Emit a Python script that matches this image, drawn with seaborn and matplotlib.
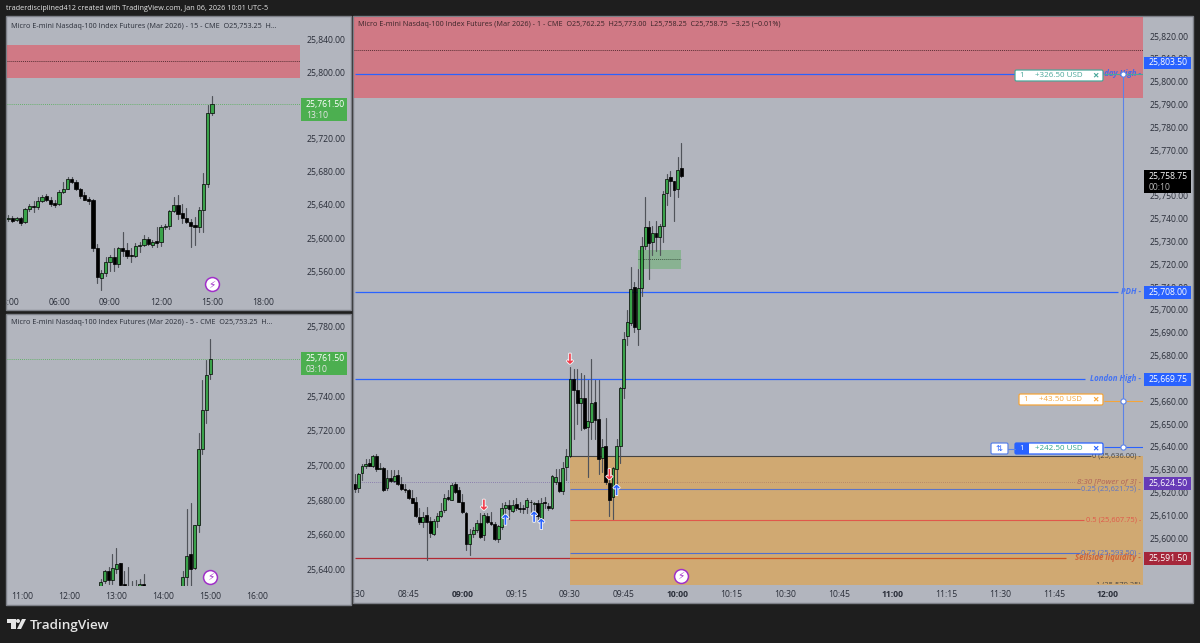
import numpy as np
import pandas as pd
import matplotlib
matplotlib.use("Agg")
import matplotlib.pyplot as plt
import matplotlib.patheffects as pe
import seaborn as sns
from matplotlib.patches import Rectangle, FancyBboxPatch, Polygon
from matplotlib.transforms import IdentityTransform

# ---- 1 minute bars, 08:30 -> 10:01 ----
m1_open = [25623.9, 25622.0, 25628.6, 25631.5, 25633.0, 25631.8, 25635.9, 25630.4, 25630.8, 25622.0,
           25626.4, 25625.2, 25627.6, 25623.9, 25621.6, 25621.0, 25617.4, 25615.9, 25609.3, 25607.2,
           25610.1, 25607.6, 25602.0, 25607.7, 25609.8, 25612.3, 25618.1, 25616.9, 25623.6, 25621.0,
           25616.0, 25611.2, 25597.4, 25601.9, 25603.5, 25606.7, 25601.2, 25609.8, 25607.0, 25606.4,
           25599.6, 25605.0, 25613.3, 25614.7, 25612.0, 25614.9, 25613.4, 25613.3, 25613.7, 25615.8,
           25615.0, 25615.2, 25608.9, 25616.0, 25614.2, 25613.3, 25624.7, 25624.8, 25620.7, 25631.2,
           25635.9, 25669.7, 25665.0, 25659.4, 25661.6, 25648.7, 25651.0, 25659.7, 25652.2, 25635.0,
           25640.3, 25624.2, 25618.1, 25630.2, 25640.3, 25665.9, 25688.4, 25694.2, 25710.0, 25691.8,
           25709.6, 25728.2, 25736.5, 25729.7, 25733.6, 25731.9, 25737.0, 25751.3, 25758.4, 25756.4,
           25752.9, 25762.25]
m1_high = [25628.3, 25628.6, 25632.7, 25634.9, 25634.9, 25636.3, 25637.0, 25633.0, 25631.2, 25630.0,
           25630.0, 25629.8, 25629.8, 25626.8, 25623.9, 25621.7, 25621.0, 25618.1, 25613.0, 25611.5,
           25613.7, 25609.3, 25608.6, 25610.8, 25615.2, 25619.5, 25621.0, 25624.0, 25624.8, 25622.5,
           25619.5, 25611.5, 25604.2, 25605.0, 25607.9, 25611.1, 25611.1, 25611.1, 25611.5, 25607.1,
           25605.7, 25615.2, 25615.9, 25616.6, 25616.6, 25617.4, 25615.9, 25614.4, 25617.4, 25616.6,
           25615.9, 25616.6, 25617.4, 25618.1, 25615.2, 25627.6, 25630.5, 25630.5, 25633.4, 25639.2,
           25675.0, 25674.3, 25674.3, 25672.3, 25671.3, 25669.1, 25678.6, 25669.4, 25669.1, 25643.6,
           25652.8, 25629.8, 25631.2, 25643.6, 25666.2, 25690.3, 25699.8, 25718.7, 25712.2, 25718.0,
           25731.9, 25749.4, 25739.2, 25737.0, 25739.2, 25737.7, 25752.3, 25759.6, 25761.0, 25756.7,
           25766.9, 25773.0]
m1_low = [25620.3, 25620.3, 25625.4, 25630.9, 25631.5, 25631.2, 25629.5, 25630.1, 25620.7, 25621.3,
          25624.6, 25624.6, 25623.5, 25621.0, 25620.3, 25617.0, 25615.2, 25609.3, 25606.4, 25605.0,
          25590.4, 25600.6, 25601.3, 25605.0, 25609.3, 25611.5, 25616.6, 25616.6, 25619.8, 25615.8,
          25611.1, 25595.0, 25592.6, 25600.6, 25602.8, 25599.9, 25599.1, 25606.7, 25605.7, 25599.1,
          25598.4, 25604.2, 25608.6, 25608.6, 25611.5, 25612.3, 25611.5, 25610.8, 25610.8, 25610.8,
          25609.3, 25608.6, 25607.9, 25613.0, 25612.5, 25612.7, 25623.9, 25620.3, 25619.2, 25625.4,
          25635.6, 25643.6, 25650.2, 25647.3, 25648.0, 25626.8, 25643.6, 25643.6, 25628.3, 25629.0,
          25623.9, 25609.6, 25608.6, 25622.5, 25633.0, 25661.6, 25684.5, 25693.2, 25690.3, 25684.8,
          25706.3, 25726.8, 25713.6, 25723.9, 25725.7, 25724.3, 25730.0, 25746.2, 25749.8, 25738.9,
          25749.4, 25758.25]
m1_close = [25621.7, 25628.3, 25631.7, 25632.7, 25631.8, 25635.9, 25630.1, 25630.8, 25621.0, 25626.4,
            25625.1, 25627.1, 25623.9, 25621.6, 25621.0, 25617.4, 25615.6, 25609.6, 25606.9, 25609.3,
            25606.9, 25602.3, 25607.7, 25609.9, 25612.0, 25617.8, 25617.2, 25623.2, 25620.3, 25616.0,
            25611.5, 25597.4, 25601.9, 25603.6, 25606.6, 25600.6, 25610.1, 25607.1, 25606.4, 25599.7,
            25605.3, 25613.4, 25614.4, 25612.7, 25614.4, 25613.0, 25612.8, 25612.7, 25616.9, 25616.0,
            25615.2, 25609.6, 25615.2, 25615.2, 25613.3, 25627.1, 25626.8, 25620.7, 25630.9, 25635.9,
            25669.7, 25664.8, 25659.4, 25661.6, 25648.3, 25651.3, 25659.2, 25651.6, 25634.9, 25640.0,
            25624.7, 25616.9, 25630.9, 25640.3, 25665.9, 25687.4, 25694.7, 25709.3, 25692.5, 25709.7,
            25728.2, 25736.3, 25729.3, 25733.8, 25731.9, 25737.0, 25750.8, 25757.4, 25756.4, 25752.6,
            25761.5, 25758.75]

# ---- 15 minute bars, 03:00 -> 15:00 ----
m15_open = [25623.0, 25624.8, 25621.5, 25624.8, 25619.5, 25635.2, 25639.2, 25637.2, 25644.8, 25650.9,
            25646.4, 25642.4, 25641.2, 25655.7, 25659.7, 25671.7, 25668.1, 25659.3, 25651.7, 25647.2,
            25646.4, 25588.2, 25552.1, 25558.1, 25570.9, 25577.0, 25568.5, 25587.4, 25585.0, 25579.8,
            25578.6, 25590.2, 25591.8, 25599.1, 25591.4, 25595.8, 25595.4, 25613.1, 25614.3, 25632.8,
            25639.6, 25630.4, 25623.9, 25619.9, 25615.5, 25613.5, 25634.4, 25665.3, 25751.3]
m15_high = [25627.6, 25626.4, 25625.6, 25625.6, 25636.8, 25641.6, 25644.8, 25649.7, 25651.7, 25653.7,
            25649.7, 25645.6, 25657.7, 25667.7, 25673.7, 25673.7, 25669.7, 25660.9, 25655.7, 25649.7,
            25646.8, 25592.2, 25561.3, 25577.4, 25579.4, 25587.4, 25589.4, 25607.5, 25593.4, 25587.4,
            25593.4, 25595.4, 25603.5, 25601.5, 25597.4, 25613.5, 25615.5, 25616.7, 25634.4, 25649.7,
            25652.5, 25641.6, 25636.8, 25623.5, 25625.6, 25637.6, 25678.6, 25761.3, 25772.1]
m15_low = [25620.7, 25619.9, 25620.3, 25616.3, 25618.7, 25632.8, 25631.2, 25635.6, 25643.2, 25645.2,
           25639.2, 25637.6, 25640.4, 25654.5, 25658.9, 25666.5, 25657.7, 25648.4, 25645.6, 25641.6,
           25584.6, 25545.2, 25537.2, 25554.1, 25560.5, 25560.5, 25565.3, 25578.2, 25575.4, 25570.5,
           25577.4, 25583.4, 25590.6, 25591.0, 25589.4, 25589.4, 25590.2, 25610.3, 25610.3, 25631.6,
           25623.5, 25618.3, 25618.3, 25589.4, 25591.4, 25607.5, 25607.5, 25661.7, 25749.3]
m15_close = [25624.8, 25621.1, 25624.8, 25618.7, 25635.6, 25638.8, 25637.6, 25645.2, 25649.7, 25646.4,
             25640.8, 25640.0, 25655.7, 25659.7, 25671.7, 25668.1, 25659.3, 25650.4, 25646.4, 25645.2,
             25587.4, 25552.9, 25558.1, 25571.4, 25577.0, 25568.9, 25587.4, 25584.6, 25578.2, 25578.2,
             25590.2, 25591.4, 25598.7, 25592.2, 25594.6, 25594.2, 25613.5, 25614.7, 25632.4, 25640.0,
             25629.6, 25623.9, 25619.9, 25615.1, 25613.5, 25634.4, 25665.7, 25751.3, 25761.5]

# ---- 5 minute bars that are in view, bars before the last one ----
m5_back = [28, 27, 26, 25, 24, 23, 22, 21, 20, 19, 18, 17, 7, 6, 5, 4, 3, 2, 1, 0]
m5_open = [25630.0, 25633.3, 25639.0, 25633.7, 25640.0, 25643.5, 25631.8, 25630.5, 25628.0, 25628.0,
           25630.0, 25631.8, 25630.4, 25635.4, 25648.7, 25640.6, 25665.9, 25709.6, 25731.9, 25752.6]
m5_high = [25634.5, 25639.6, 25641.2, 25648.9, 25652.1, 25643.9, 25639.0, 25641.6, 25633.3, 25633.7,
           25634.5, 25637.1, 25639.0, 25675.1, 25678.6, 25665.9, 25718.8, 25749.5, 25761.0, 25772.9]
m5_low = [25628.0, 25632.0, 25631.4, 25631.4, 25637.7, 25629.0, 25628.0, 25628.0, 25626.0, 25626.0,
          25628.0, 25628.0, 25626.0, 25631.0, 25630.0, 25640.0, 25661.3, 25706.8, 25724.6, 25749.9]
m5_close = [25632.5, 25639.0, 25633.7, 25640.6, 25642.9, 25631.0, 25630.0, 25630.2, 25629.0, 25629.0,
            25631.8, 25630.0, 25635.8, 25647.9, 25640.2, 25665.9, 25709.6, 25731.9, 25752.4, 25761.5]

# ---- levels ----
zone_low = 25793.0
zone_high = 25834.0
zone_mid = 25814.0
level_names = ["Today High -", "PDH -", "London High -", "Sellside liquidity -"]
level_prices = [25803.5, 25708.0, 25669.75, 25591.5]
level_ends = [184.0, 212.9, 203.7, 198.4]
level_colors = ["#2962ff", "#2962ff", "#2962ff", "#b22833"]
fib_prices = [25636.0, 25621.75, 25607.75, 25593.5, 25579.25]
fib_labels = ["0 (25,636.00) -", "0.25 (25,621.75) -", "0.5 (25,607.75) -", "0.75 (25,593.50) -", "1 (25,579.25)"]
fib_colors = ["#444444", "#5b74c8", "#e0584a", "#4f6fd0", "#444444"]
fib_ends = [205.4, 202.3, 203.4, 202.3, 202.3]
down_x = [60, 36, 71]
down_y = [25678.2, 25614.2, 25627.6]
up_x = [42, 50, 52, 73]
up_y = [25607.6, 25608.9, 25605.7, 25620.6]
drawing_x = 214.3
anchor_prices = [25803.5, 25660.0, 25640.0]
anchor_colors = ["#4aa79a", "#f5a53a", "#2962ff"]

BG = "#1e1e1e"
PANE = "#b2b5be"
TXT = "#2a2e39"
UP = "#3aa24a"

sns.set_theme(style="white")
plt.rcParams["font.family"] = ["Open Sans", "DejaVu Sans"]
plt.rcParams["axes.unicode_minus"] = False

fig = plt.figure(figsize=(12, 6.43), dpi=100, facecolor=BG)
ident = IdentityTransform()


def px_text(x, y, s, **kw):
    kw.setdefault("va", "center")
    kw.setdefault("color", TXT)
    kw.setdefault("fontsize", 5.2)
    return fig.text(x, 643 - y, s, transform=ident, **kw)


def make_panel(x0, y0, x1, y1, cx1, cy1):
    # grey pane with the chart axes sitting inside it, scale + time areas stay around the axes
    rect = Rectangle((x0, 643 - y1), x1 - x0, y1 - y0, transform=ident, facecolor=PANE,
                     edgecolor="#7d8088", lw=1, zorder=-1)
    fig.add_artist(rect)
    ax = fig.add_axes([(x0 + 1) / 1200, (643 - cy1) / 643, (cx1 - x0 - 1) / 1200, (cy1 - y0 - 1) / 643])
    ax.set_facecolor("none")
    for s in ax.spines.values():
        s.set_visible(False)
    return ax, rect


def candles(ax, x, o, h, l, c, body_lw=0.5):
    df = pd.DataFrame({"x": x, "open": o, "high": h, "low": l, "close": c}).sort_values("x")
    df["bar"] = range(len(df))
    wick = df.melt(id_vars=["bar", "x"], value_vars=["low", "high"], value_name="price")
    sns.lineplot(data=wick, x="x", y="price", units="bar", estimator=None, errorbar=None,
                 color="#50535a", lw=0.85, ax=ax, legend=False, zorder=4)
    for is_up, col in [(True, UP), (False, "#000000")]:
        sub = df[(df["close"] >= df["open"]) == is_up]
        sns.barplot(x=sub["x"].values, y=(sub["close"] - sub["open"]).abs().values,
                    bottom=sub[["open", "close"]].min(axis=1).values,
                    native_scale=True, width=0.8, color=col, saturation=1, errorbar=None,
                    edgecolor="#000000", linewidth=body_lw, ax=ax, zorder=5)


def finish(ax, rect, xlim, ylim, xt, xl, yt, fmt="{:,.2f}", bold=()):
    ax.set_xlim(*xlim)
    ax.set_ylim(*ylim)
    ax.set_xlabel("")
    ax.set_ylabel("")
    ax.grid(False)
    ax.set_xticks(xt)
    ax.set_xticklabels(xl)
    ax.yaxis.tick_right()
    ax.set_yticks(yt)
    ax.set_yticklabels([fmt.format(v) for v in yt])
    ax.tick_params(axis="x", length=0, pad=4.2, labelsize=6.2, labelcolor=TXT)
    ax.tick_params(axis="y", length=0, pad=4.6, labelsize=6.2, labelcolor=TXT)
    for lab in ax.get_xticklabels():
        lab.set_clip_on(True)
        lab.set_clip_path(rect)
        if lab.get_text() in bold:
            lab.set_fontweight("bold")


def badge(x0, y0, x1, y1, color, line1, line2=None, c2="#e6e6e6"):
    fig.add_artist(Rectangle((x0, 643 - y1), x1 - x0, y1 - y0, transform=ident, facecolor=color, lw=0))
    if line2 is None:
        px_text(x0 + 5, (y0 + y1) / 2, line1, color="white", fontsize=6.2)
    else:
        px_text(x0 + 5, y0 + 6.5, line1, color="white", fontsize=6.2)
        px_text(x0 + 5, y0 + 17, line2, color=c2, fontsize=6.2)


def bolt(ax, x, y):
    ax.scatter([x], [y], s=100, facecolor="white", edgecolor="#a030c8", lw=1.1, zorder=9)
    ax.text(x, y, "\u26a1", color="#a030c8", fontsize=7.5, ha="center", va="center", zorder=10,
            family="DejaVu Sans")


def order_tag(x0, x1, y, color, qty, txt, qty_fill=False):
    box = FancyBboxPatch((x0, 643 - y - 5.5), x1 - x0, 11, boxstyle="round,pad=0,rounding_size=1.5",
                         transform=ident, facecolor="white", edgecolor=color, lw=0.9)
    fig.add_artist(box)
    if qty_fill:
        fig.add_artist(Rectangle((x0, 643 - y - 5.5), 14, 11, transform=ident, facecolor=color, lw=0))
    px_text(x0 + 7, y, qty, color="white" if qty_fill else color, ha="center", fontsize=5.8)
    txt_col = "#2fa58f" if qty_fill else color
    px_text((x0 + 14 + x1 - 15) / 2, y, txt, color=txt_col, ha="center", fontsize=5.8)
    px_text(x1 - 7.5, y, "\u00d7", color=color if not qty_fill else "#2962ff", ha="center", fontsize=8, fontweight="bold")


# ==================== 15 minute pane ====================
ax15, r15 = make_panel(6, 16, 351, 310, 300, 292)
candles(ax15, 3 + np.arange(len(m15_open)) * 0.25, m15_open, m15_high, m15_low, m15_close)
ax15.axhspan(zone_low, zone_high, color="#f23645", alpha=0.47, lw=0, zorder=1)
ax15.axhline(zone_mid, color="#5a3035", lw=0.7, ls=(0, (1, 1)), zorder=2)
ax15.axhline(25761.5, color="#4caf50", lw=0.6, ls=(0, (1, 1.5)), zorder=2)
finish(ax15, r15, (2.94, 20.18), (25534.7, 25867.3), [3, 6, 9, 12, 15, 18],
       ["03:00", "06:00", "09:00", "12:00", "15:00", "18:00"],
       [25560, 25600, 25640, 25680, 25720, 25760, 25800, 25840])
bolt(ax15, 15, 25544)
px_text(11, 26, "Micro E-mini Nasdaq-100 Index Futures (Mar 2026) - 15 - CME  O25,753.25  H...")
badge(301, 98, 347, 121, "#4caf50", "25,761.50", "13:10")

# ==================== 5 minute pane ====================
ax5, r5 = make_panel(6, 314, 351, 605, 300, 586)
candles(ax5, 15 - np.array(m5_back) * 5 / 60, m5_open, m5_high, m5_low, m5_close)
ax5.axhline(25761.5, color="#4caf50", lw=0.6, ls=(0, (1, 1.5)), zorder=2)
finish(ax5, r5, (10.67, 16.91), (25630.4, 25786.9), [11, 12, 13, 14, 15, 16],
       ["11:00", "12:00", "13:00", "14:00", "15:00", "16:00"],
       [25640, 25660, 25680, 25700, 25720, 25740, 25760, 25780])
bolt(ax5, 15, 25635.6)
px_text(11, 322, "Micro E-mini Nasdaq-100 Index Futures (Mar 2026) - 5 - CME  O25,753.25  H...")
badge(301, 352, 347, 375, "#4caf50", "25,761.50", "03:10")

# ==================== 1 minute pane ====================
ax1, r1 = make_panel(353, 16, 1193, 603, 1143, 584)
candles(ax1, np.arange(len(m1_open)), m1_open, m1_high, m1_low, m1_close)
ax1.axhspan(zone_low, zone_high, color="#f23645", alpha=0.47, lw=0, zorder=1)
ax1.axhline(zone_mid, color="#5a3035", lw=0.7, ls=(0, (1, 1)), zorder=2)
ax1.fill_between([60, 219.8], 25579.0, fib_prices[0], color="#ff9800", alpha=0.4, lw=0, zorder=2)
ax1.fill_between([79, 91], 25717.8, 25726.5, color="#4caf50", alpha=0.4, lw=0, zorder=1)
ax1.hlines(25722.2, 79, 91, color="#3f5a45", lw=0.7, ls=(0, (1, 1)), zorder=2)
ax1.hlines(25624.5, 0, 200.9, color="#7e6fa8", lw=0.6, ls=(0, (1, 1.5)), zorder=1)

for name, price, end, col in zip(level_names, level_prices, level_ends, level_colors):
    ax1.hlines(price, 0, end, color=col, lw=0.9, zorder=1)
    lab_col = "#d0512a" if "Sell" in name else col
    ax1.text(219.2, price, name, color=lab_col, fontsize=5.7, style="italic", fontweight="bold",
             ha="right", va="center", alpha=0.8, zorder=3)
ax1.text(219.2, 25624.5, "8:30 [Power of 3] -", color="#b0625a", fontsize=5.8, style="italic",
         ha="right", va="center", zorder=3)

for price, label, col, end in zip(fib_prices, fib_labels, fib_colors, fib_ends):
    ax1.hlines(price, 60, end, color=col, lw=0.8, zorder=3)
    ax1.text(219.2, price, label, color=col, fontsize=5.4, ha="right", va="center", zorder=3, clip_on=True)

# position tool
ax1.vlines(drawing_x, anchor_prices[2], anchor_prices[0], color="#5b82e8", lw=0.8, zorder=6)
for price, col in zip(anchor_prices, anchor_colors):
    ax1.hlines(price, 209, 219.8, color=col, lw=0.8, zorder=5)
    ax1.scatter([drawing_x], [price], s=14, facecolor="white", edgecolor="#5b82e8", lw=0.8, zorder=7)

halo = [pe.withStroke(linewidth=1.3, foreground="#f4f4f6")]
for x, y in zip(down_x, down_y):
    ax1.text(x, y, "\u2193", color="#f23645", fontsize=10, fontweight="bold", ha="center", va="center", zorder=8,
             family="DejaVu Sans", path_effects=halo)
for x, y in zip(up_x, up_y):
    ax1.text(x, y, "\u2191", color="#2962ff", fontsize=10, fontweight="bold", ha="center", va="center", zorder=8,
             family="DejaVu Sans", path_effects=halo)

m1_times = ["08:30", "08:45", "09:00", "09:15", "09:30", "09:45", "10:00", "10:15", "10:30", "10:45",
            "11:00", "11:15", "11:30", "11:45", "12:00"]
finish(ax1, r1, (-0.22, 219.8), (25579.9, 25828.4), np.arange(0, 211, 15), m1_times,
       np.arange(25590, 25821, 10), bold=("09:00", "10:00", "11:00", "12:00"))
bolt(ax1, 91, 25583.5)
px_text(358, 25, "Micro E-mini Nasdaq-100 Index Futures (Mar 2026) - 1 - CME  O25,762.25  H25,773.00  L25,758.25  C25,758.75  \u22123.25 (\u22120.01%)",
        color="#3a2428")

badge(1144, 57, 1191, 69, "#2962ff", "25,803.50")
badge(1144, 170, 1191, 193, "#000000", "25,758.75", "00:10", "#b8b8b8")
badge(1144, 286, 1191, 299, "#2962ff", "25,708.00")
badge(1144, 373, 1191, 386, "#2962ff", "25,669.75")
badge(1144, 477, 1191, 490, "#673ab7", "25,624.50")
badge(1144, 552, 1191, 565, "#a5263a", "25,591.50")

order_tag(1015, 1103, 75.5, "#4aa79a", "1", "+326.50 USD")
order_tag(1019, 1103, 399.5, "#f5a53a", "1", "+43.50 USD")
order_tag(1015, 1103, 448.5, "#2962ff", "1", "+242.50 USD", qty_fill=True)
fig.add_artist(FancyBboxPatch((991, 643 - 454), 17, 11, boxstyle="round,pad=0,rounding_size=1.5", transform=ident,
                              facecolor="white", edgecolor="#5b82e8", lw=0.9))
px_text(999.5, 448.5, "\u21c5", color="#2962ff", ha="center", fontsize=6, family="DejaVu Sans")
fig.add_artist(plt.Line2D([1008, 1015], [194.5, 194.5], transform=ident, color="#5b82e8", lw=0.8))

# ==================== header and logo ====================
px_text(6, 9, "traderdisciplined412 created with TradingView.com, Jan 06, 2026 10:01 UTC-5", color="#e8e8e8", fontsize=5.2)
px_text(30, 625, "TradingView", color="#e6e6e6", fontsize=9.7, family="Open Sans", fontweight="semibold")
fig.add_artist(Polygon([(7, 24), (16, 24), (16, 14), (11, 14), (11, 20), (7, 20)], transform=ident, facecolor="#e6e6e6", lw=0))
fig.add_artist(Polygon([(22, 24), (26, 24), (21, 14), (17, 14)], transform=ident, facecolor="#e6e6e6", lw=0))
fig.add_artist(plt.Circle((18, 22), 2, transform=ident, facecolor="#e6e6e6", lw=0))

fig.savefig("out.png", dpi=100, facecolor=BG)
